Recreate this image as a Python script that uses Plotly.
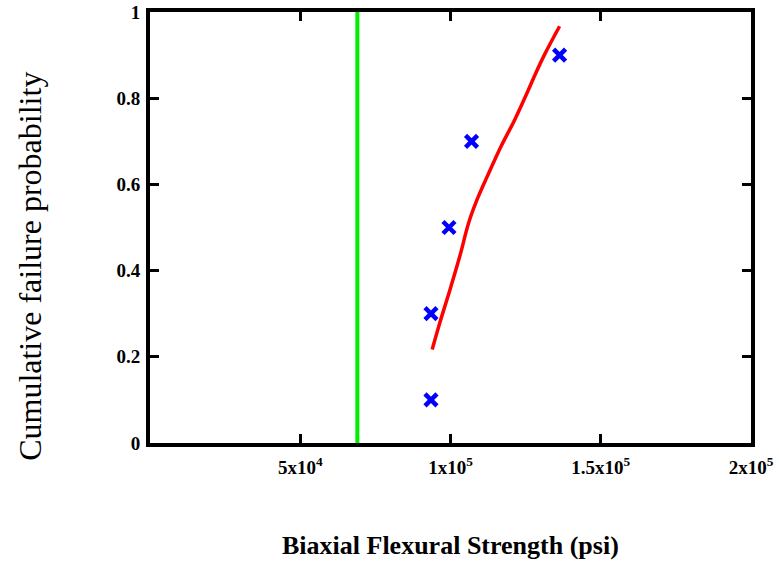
import plotly.graph_objects as go

# Measured data points (Biaxial flexural strength, psi) vs cumulative failure probability
data_strength = [93500, 93500, 99500, 107000, 136300]
data_prob = [0.1, 0.3, 0.5, 0.7, 0.9]

# Fitted distribution curve
fit_strength = [93900, 96400, 99800, 103200, 106000, 108800, 112200, 116800,
                121300, 125900, 128100, 131500, 136300]
fit_prob = [0.217, 0.278, 0.355, 0.436, 0.510, 0.564, 0.618, 0.688,
            0.749, 0.819, 0.854, 0.904, 0.967]

# Vertical design-limit line
limit_strength = [69000, 69000]
limit_prob = [0, 1]

x_tickvals = [50000, 100000, 150000, 200000]
x_ticktext = ["<b>5x10<sup>4</sup></b>", "<b>1x10<sup>5</sup></b>",
              "<b>1.5x10<sup>5</sup></b>", "<b>2x10<sup>5</sup></b>"]
y_tickvals = [0, 0.2, 0.4, 0.6, 0.8, 1]
y_ticktext = ["<b>0</b>", "<b>0.2</b>", "<b>0.4</b>", "<b>0.6</b>", "<b>0.8</b>", "<b>1</b>"]

SERIF = "Liberation Serif"

fig = go.Figure()
fig.add_trace(go.Scatter(x=limit_strength, y=limit_prob, mode="lines",
                         line=dict(color="#00ee00", width=4), showlegend=False))
fig.add_trace(go.Scatter(x=fit_strength, y=fit_prob, mode="lines",
                         line=dict(color="#ff0000", width=3.5, shape="spline"),
                         showlegend=False))
fig.add_trace(go.Scatter(x=data_strength, y=data_prob, mode="markers",
                         marker=dict(symbol="x-thin-open", size=12, color="#0000ff",
                                     line=dict(color="#0000ff", width=4.5)),
                         showlegend=False))

tickfont = dict(family=SERIF, size=19, color="black")
fig.update_xaxes(range=[0, 200000], tickvals=x_tickvals, ticktext=x_ticktext,
                 showline=True, linewidth=4, linecolor="black", mirror="ticks",
                 ticks="inside", ticklen=9, tickwidth=3, tickcolor="black",
                 showgrid=False, zeroline=False, tickfont=tickfont, ticklabelstandoff=4,
                 automargin=False)
fig.update_yaxes(range=[0, 1], tickvals=y_tickvals, ticktext=y_ticktext,
                 showline=True, linewidth=4, linecolor="black", mirror="ticks",
                 ticks="inside", ticklen=9, tickwidth=3, tickcolor="black",
                 showgrid=False, zeroline=False, tickfont=tickfont, ticklabelstandoff=2,
                 automargin=False)

fig.add_annotation(text="<b>Biaxial Flexural Strength (psi)</b>", xref="paper", yref="paper",
                   x=0.5, y=-0.237, showarrow=False, yanchor="middle",
                   font=dict(family=SERIF, size=26, color="black"))
fig.add_annotation(text="Cumulative failure probability", xref="paper", yref="paper",
                   x=-0.232, y=0.41, showarrow=False, textangle=-90,
                   font=dict(family=SERIF, size=32, color="black"))

fig.update_layout(width=779, height=563, margin=dict(l=150, r=28, t=12, b=120),
                  plot_bgcolor="white", paper_bgcolor="white",
                  font=dict(family=SERIF, color="black"))
fig.write_html("out.html")
